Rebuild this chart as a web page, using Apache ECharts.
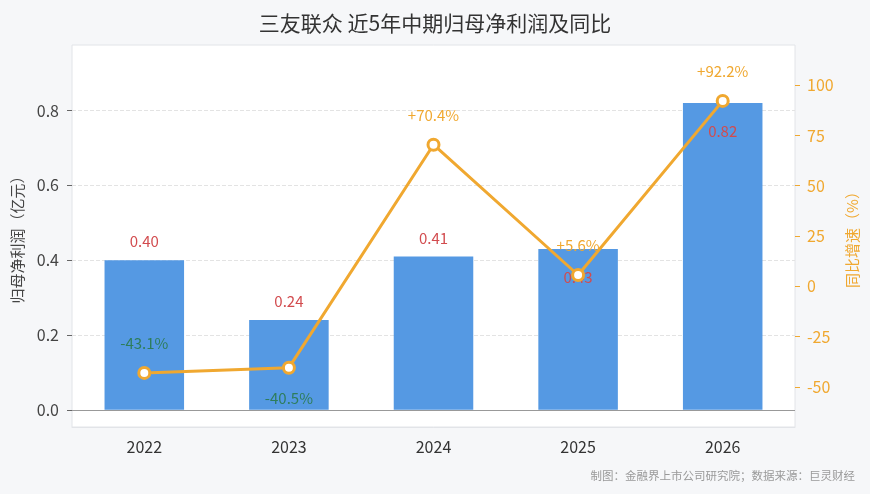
<!DOCTYPE html>
<html>
<head>
<meta charset="utf-8">
<script src="https://cdn.jsdelivr.net/npm/echarts@6/dist/echarts.min.js"></script>
<style>
  html, body { margin: 0; padding: 0; background: #f6f7f9; }
  #chart { width: 870px; height: 494px; }
</style>
</head>
<body>
<div id="chart"></div>
<script>
	var years = ['2022', '2023', '2024', '2025', '2026'];
	var profit = [0.40, 0.24, 0.41, 0.43, 0.82];	// 归母净利润（亿元）
	var growth = [-43.1, -40.5, 70.4, 5.6, 92.2];	// 同比增速（%）
	var leftTicks = [0, 0.2, 0.4, 0.6, 0.8];
	var rightTicks = [-50, -25, 0, 25, 50, 75, 100];

	var font = 'Noto Sans CJK SC';
	var orange = '#f0a830';
	var red = '#d24b4e';
	var green = '#2e7d5b';

	// 柱状图标签：靠近折线的放到柱内
	var barData = [];
	for (var i = 0; i < profit.length; i++) {
		var inside = (i == 3 || i == 4);
		barData.push({
			value: profit[i],
			label: inside ? { position: 'insideTop', distance: 21 } : { position: 'top', distance: 11 }
		});
	}

	var lineData = [];
	for (var j = 0; j < growth.length; j++) {
		var below = (j == 1);
		lineData.push({
			value: growth[j],
			label: {
				position: below ? 'bottom' : 'top',
				distance: below ? 16 : 15,
				color: growth[j] < 0 ? green : orange
			}
		});
	}

	var option = {
		backgroundColor: '#f6f7f9',
		textStyle: { fontFamily: font },
		title: {
			text: '三友联众 近5年中期归母净利润及同比',
			left: 'center',
			top: 8,
			textStyle: { fontSize: 21, fontWeight: 'normal', color: '#333', fontFamily: font }
		},
		graphic: [{
			type: 'text',
			right: 15,
			top: 470,
			style: { text: '制图：金融界上市公司研究院；数据来源：巨灵财经', fill: '#999', fontSize: 11.5, fontFamily: font }
		}],
		grid: {
			left: 72, right: 75, top: 45, bottom: 67,
			outerBoundsMode: 'none',
			containLabel: false,
			show: true, backgroundColor: '#fff', borderColor: '#e2e4e8', borderWidth: 1
		},
		xAxis: {
			type: 'category',
			data: years,
			axisLine: { onZero: false, lineStyle: { color: '#e2e4e8' } },
			axisTick: { alignWithLabel: true, length: 5, lineStyle: { color: '#666' } },
			axisLabel: { fontSize: 16, color: '#333', margin: 12, fontFamily: font }
		},
		yAxis: [{
			type: 'value',
			min: -0.046,
			max: 0.975,
			name: '归母净利润（亿元）',
			nameLocation: 'middle',
			nameRotate: 90,
			nameGap: 47,
			nameTextStyle: { fontSize: 15, color: '#444', fontFamily: font },
			axisLine: { show: false },
			axisTick: { show: true, length: 5, customValues: leftTicks, lineStyle: { color: '#666' } },
			axisLabel: {
				fontSize: 16, color: '#444', margin: 13, fontFamily: font,
				customValues: leftTicks,
				formatter: function (v) { return v.toFixed(1); }
			},
			splitLine: { show: true, lineStyle: { color: '#e3e3e3', type: 'dashed' } }
		}, {
			type: 'value',
			min: -70,
			max: 120,
			name: '同比增速（%）',
			nameLocation: 'middle',
			nameRotate: 90,
			nameGap: 48,
			nameTextStyle: { fontSize: 15, color: orange, fontFamily: font },
			axisLine: { show: false },
			axisTick: { show: true, length: 5, customValues: rightTicks, lineStyle: { color: orange } },
			axisLabel: { fontSize: 16, color: orange, margin: 12, fontFamily: font, customValues: rightTicks },
			splitLine: { show: false }
		}],
		series: [{
			name: '归母净利润',
			type: 'bar',
			data: barData,
			barWidth: '55%',
			itemStyle: { color: '#5599e3' },
			label: {
				show: true,
				fontSize: 15,
				color: red,
				fontFamily: font,
				formatter: function (p) { return p.value.toFixed(2); }
			},
			markLine: {
				silent: true,
				symbol: 'none',
				label: { show: false },
				lineStyle: { color: '#999', type: 'solid', width: 1.2 },
				data: [{ yAxis: 0 }]
			},
			z: 2
		}, {
			name: '同比增速',
			type: 'line',
			yAxisIndex: 1,
			data: lineData,
			symbol: 'circle',
			symbolSize: 11,
			lineStyle: { color: orange, width: 3 },
			itemStyle: { color: '#fff', borderColor: orange, borderWidth: 3 },
			label: {
				show: true,
				fontSize: 15,
				fontFamily: font,
				formatter: function (p) { return (p.value > 0 ? '+' : '') + p.value.toFixed(1) + '%'; }
			},
			z: 5
		}]
	};

	echarts.init(document.getElementById('chart')).setOption(option);
</script>
</body>
</html>
